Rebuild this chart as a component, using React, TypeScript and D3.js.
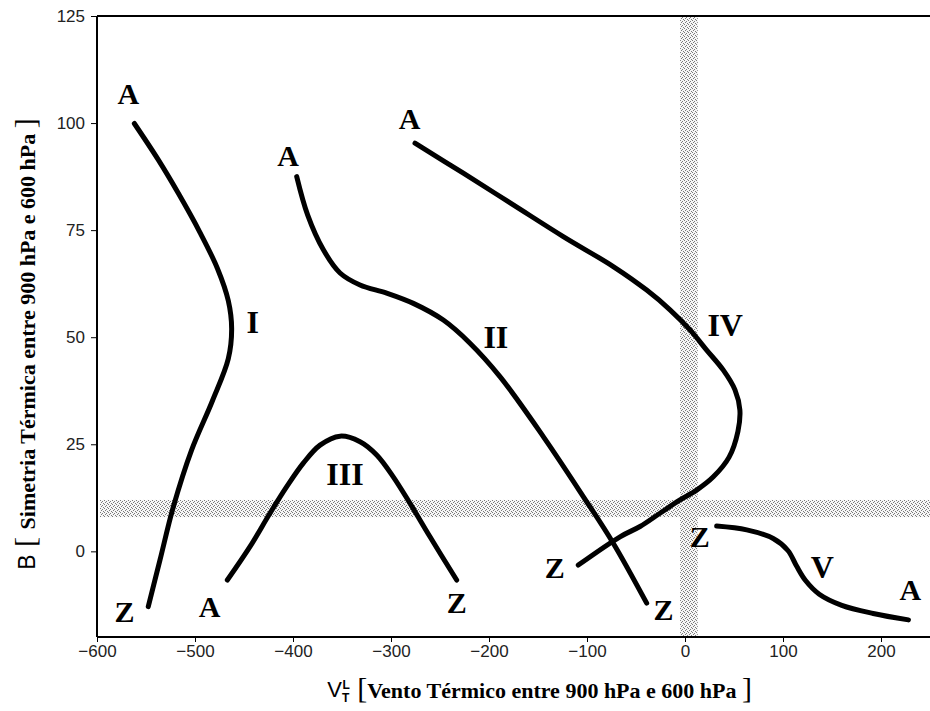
import React, { useEffect, useRef } from 'react';
import * as d3 from 'd3';

// curve points: [Vt (x), B (y)], from A to Z
const curveI = [[-561.9, 99.9], [-537.4, 91.4], [-517, 83.6], [-495, 74.5], [-477, 66], [-466, 58.5], [-462.6, 52], [-466, 45], [-482.5, 35], [-503.4, 23.7], [-522.1, 10.4], [-535.7, -2], [-547.7, -12.9]];
const curveII = [[-396.2, 87.5], [-385, 78.5], [-369, 70.4], [-352, 65], [-331.6, 62.2], [-304.4, 60.3], [-277.2, 57.9], [-246.6, 54], [-219.4, 48.6], [-188.8, 40.8], [-144.6, 26.8], [-103.8, 12.8], [-73.2, 1.9], [-39.1, -12.1]];
const curveIII = [[-467, -6.7], [-443.9, 1.1], [-423.5, 8.9], [-406.4, 15.1], [-389.5, 20.6], [-372.4, 24.8], [-352, 26.9], [-331.6, 25.6], [-314.6, 22.5], [-297.7, 17.4], [-280.6, 11.2], [-260.2, 3.4], [-233, -6.7]];
const curveIV = [[-275.5, 95.3], [-226.2, 88.3], [-175.2, 80.9], [-124.2, 73.5], [-73.2, 66.5], [-39.1, 61], [-15.3, 56.4], [5.1, 51.7], [22.1, 47], [39.1, 42.3], [51, 37.7], [56, 33], [54, 28], [45, 22], [28.9, 17.4], [11.9, 14.3], [-5.1, 12], [-25.5, 8.9], [-45.9, 5.8], [-66.3, 3.4], [-108.9, -3.2]];
const curveV = [[32.3, 5.9], [63, 5], [90, 3], [105, 0.2], [114, -3.5], [123, -6.8], [137, -10], [160, -12.6], [192, -14.5], [228, -16]];

const labelText = ['A', 'Z', 'I', 'A', 'II', 'Z', 'A', 'III', 'Z', 'A', 'IV', 'Z', 'Z', 'V', 'A'];
const labelX = [-568, -572, -441, -405, -193, -22, -485, -347, -233, -281, 41, -133, 15, 140, 230];
const labelY = [107, -14, 53.6, 92.5, 50, -13.5, -12.8, 18, -11.9, 101, 53, -3.7, 3.5, -3.5, -8.9];

const xTicks = [-600, -500, -400, -300, -200, -100, 0, 100, 200];
const yTicks = [0, 25, 50, 75, 100, 125];

// shaded bands
const bandX = [-5, 13];
const bandY = [8, 12];

const App = () => {
    const svgRef = useRef(null);

    useEffect(() => {
        const width = 930;
        const height = 711;
        const left = 97, right = 930, top = 16, bottom = 637;

        const svg = d3.select(svgRef.current);
        svg.selectAll('*').remove();
        svg.attr('width', width).attr('height', height);

        const x = d3.scaleLinear().domain([-600, 250]).range([left, right]);
        const y = d3.scaleLinear().domain([-20, 125]).range([bottom, top]);

        // stipple pattern for the bands
        const pat = svg.append('defs').append('pattern')
            .attr('id', 'stipple')
            .attr('width', 4).attr('height', 4)
            .attr('patternUnits', 'userSpaceOnUse');
        pat.append('rect').attr('width', 4).attr('height', 4).attr('fill', '#f6f6f6');
        [[0, 0], [2, 1], [1, 2], [3, 3]].forEach(([px, py]) => {
            pat.append('rect').attr('x', px).attr('y', py).attr('width', 1).attr('height', 1).attr('fill', '#7a7a7a');
        });

        svg.append('rect')
            .attr('x', left + 3).attr('width', right - left - 3)
            .attr('y', y(bandY[1])).attr('height', y(bandY[0]) - y(bandY[1]))
            .attr('fill', 'url(#stipple)');
        svg.append('rect')
            .attr('x', x(bandX[0])).attr('width', x(bandX[1]) - x(bandX[0]))
            .attr('y', top).attr('height', bottom - top)
            .attr('fill', 'url(#stipple)');

        // frame
        svg.append('line')
            .attr('x1', left).attr('x2', right).attr('y1', top).attr('y2', top)
            .attr('stroke', '#000').attr('stroke-width', 2);

        const xAxis = svg.append('g')
            .attr('transform', `translate(0,${bottom})`)
            .call(d3.axisBottom(x).tickValues(xTicks).tickSize(5).tickPadding(3).tickFormat(d => d3.format('d')(d).replace('-', '\u2212')));
        const yAxis = svg.append('g')
            .attr('transform', `translate(${left},0)`)
            .call(d3.axisLeft(y).tickValues(yTicks).tickSize(6).tickPadding(6));

        [xAxis, yAxis].forEach(g => {
            g.select('.domain').attr('stroke', '#000').attr('stroke-width', 2);
            g.selectAll('.tick line').attr('stroke', '#000').attr('stroke-width', 1);
            g.selectAll('.tick text')
                .style('font-family', '"Liberation Sans", Arial, sans-serif')
                .style('font-size', '17px')
                .attr('fill', '#222');
        });
        xAxis.select('.domain').attr('d', `M${left},0H${right}`);
        yAxis.select('.domain').attr('d', `M0,${top}V${bottom}`);

        // curves
        const line = d3.line()
            .curve(d3.curveCatmullRom.alpha(0.5))
            .x(d => x(d[0]))
            .y(d => y(d[1]));

        svg.selectAll('.curve')
            .data([curveI, curveII, curveIII, curveIV, curveV])
            .enter().append('path')
            .attr('class', 'curve')
            .attr('fill', 'none')
            .attr('stroke', '#000')
            .attr('stroke-width', 5)
            .attr('stroke-linecap', 'round')
            .attr('stroke-linejoin', 'round')
            .attr('d', line);

        // A / Z / roman numeral labels
        svg.selectAll('.lbl')
            .data(labelText)
            .enter().append('text')
            .attr('class', 'lbl')
            .attr('x', (d, i) => x(labelX[i]))
            .attr('y', (d, i) => y(labelY[i]))
            .attr('dy', '0.35em')
            .attr('text-anchor', 'middle')
            .style('font-family', '"Liberation Serif", "Times New Roman", serif')
            .style('font-weight', 'bold')
            .style('font-size', d => (d === 'A' || d === 'Z') ? '30px' : '32px')
            .text(d => d);

        // x axis title
        const xt = svg.append('text')
            .attr('x', 752).attr('y', 697)
            .attr('text-anchor', 'end')
            .style('font-family', '"Liberation Serif", serif')
            .style('font-weight', 'bold');
        xt.append('tspan').style('font-family', '"Liberation Sans", sans-serif').style('font-weight', 'normal').style('font-size', '22px').text('V');
        xt.append('tspan').attr('dy', 5).style('font-family', '"Liberation Sans", sans-serif').style('font-size', '12px').text('T');
        xt.append('tspan').attr('dy', -13).attr('dx', -7).style('font-family', '"Liberation Sans", sans-serif').style('font-size', '12px').text('L');
        xt.append('tspan').attr('dy', 9).style('font-size', '30px').style('font-weight', 'normal').text('  [');
        xt.append('tspan').style('font-size', '22px').text('Vento Térmico entre 900 hPa e 600 hPa ');
        xt.append('tspan').style('font-size', '30px').style('font-weight', 'normal').text(']');

        // y axis title
        const yt = svg.append('text')
            .attr('transform', 'translate(35,344) rotate(-90)')
            .attr('text-anchor', 'middle')
            .style('font-family', '"Liberation Serif", serif')
            .style('font-weight', 'bold');
        yt.append('tspan').style('font-family', '"Liberation Sans", sans-serif').style('font-weight', 'normal').style('font-size', '23px').text('B');
        yt.append('tspan').style('font-size', '30px').style('font-weight', 'normal').text(' [ ');
        yt.append('tspan').style('font-size', '22px').text('Simetria Térmica entre 900 hPa e 600 hPa ');
        yt.append('tspan').style('font-size', '30px').style('font-weight', 'normal').text(']');
    }, []);

    return (
        <div>
            <style>{'body{margin:0;background:#fff}'}</style>
            <svg ref={svgRef}></svg>
        </div>
    );
};

export default App;
